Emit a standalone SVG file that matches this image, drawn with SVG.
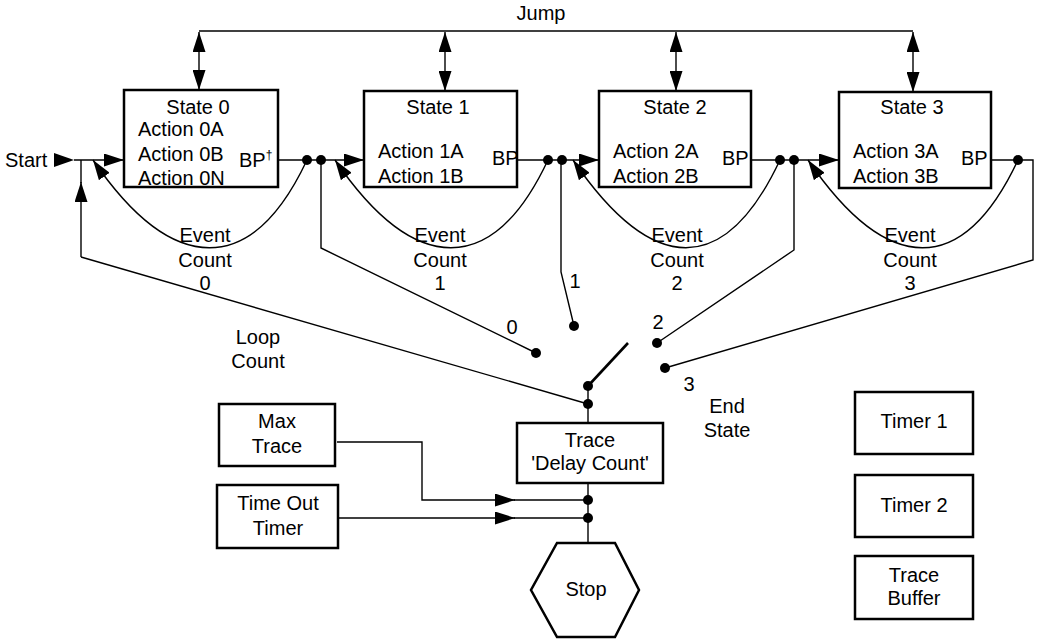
<svg xmlns="http://www.w3.org/2000/svg" width="1038" height="640" viewBox="0 0 1038 640">
<defs>
<marker id="ah" markerUnits="userSpaceOnUse" markerWidth="21" markerHeight="13" refX="20" refY="6.5" orient="auto-start-reverse" viewBox="0 0 21 13">
<path d="M0,0 L20,6.5 L0,13 z" fill="#000"/>
</marker>
</defs>
<style>
text{font-family:"Liberation Sans",Arial,sans-serif;font-size:20px;fill:#000}
.c{text-anchor:middle}
.box{fill:#fff;stroke:#000;stroke-width:2.5}
.ln{fill:none;stroke:#000;stroke-width:1.4}
.arr{fill:none;stroke:#000;stroke-width:1.4;marker-end:url(#ah)}
.dbl{fill:none;stroke:#000;stroke-width:1.4;marker-start:url(#ah);marker-end:url(#ah)}
.dot{fill:#000}
</style>
<rect width="1038" height="640" fill="#fff"/>

<g id="connectors">
<!-- Jump bus -->
<path class="ln" d="M199,31 H913"/>
<path class="dbl" d="M199,32 V90"/>
<path class="dbl" d="M445,32 V91"/>
<path class="dbl" d="M676,32 V91"/>
<path class="dbl" d="M913,32 V92"/>
<!-- Start -->
<polygon points="54,153 74,160 54,167" fill="#000"/>
<path class="arr" d="M74,160 H124"/>
<!-- loop return -->
<path class="arr" d="M81,257 V182"/>
<path class="ln" d="M81,183 V160"/>
<path class="ln" d="M81,257 L588,404"/>
<!-- state 0 out -->
<path class="ln" d="M278,160 H321"/>
<path class="arr" d="M321,160 H364"/>
<path class="arr" d="M307,160 C252,277 173,277 93,160"/>
<path class="ln" d="M321,160 V248 L536,353"/>
<!-- state 1 out -->
<path class="ln" d="M517,160 H562"/>
<path class="arr" d="M562,160 H599"/>
<path class="arr" d="M548,160 C493,277 415,277 335,160"/>
<path class="ln" d="M561,160 V272 L574,326"/>
<!-- state 2 out -->
<path class="ln" d="M751,160 H794"/>
<path class="arr" d="M794,160 H839"/>
<path class="arr" d="M780,160 C725,277 653,277 573,160"/>
<path class="ln" d="M794,160 V250 L657,343"/>
<!-- state 3 out -->
<path class="ln" d="M991,160 H1033 V260 L665,368"/>
<path class="arr" d="M1018,160 C963,277 888,277 808,160"/>
<!-- switch -->
<path class="ln" d="M588,386 L628,343" style="stroke-width:2.6"/>
<path class="ln" d="M588,386 V423"/>
<path class="ln" d="M588,483 V543"/>
<!-- Max Trace / Time Out -->
<path class="arr" d="M337,442 H422 V500 H515"/>
<path class="ln" d="M514,500 H588"/>
<path class="arr" d="M338,518 H515"/>
<path class="ln" d="M514,518 H588"/>
<!-- dots -->
<circle class="dot" cx="307" cy="160" r="5"/>
<circle class="dot" cx="321" cy="160" r="5"/>
<circle class="dot" cx="548" cy="160" r="5"/>
<circle class="dot" cx="562" cy="160" r="5"/>
<circle class="dot" cx="780" cy="160" r="5"/>
<circle class="dot" cx="794" cy="160" r="5"/>
<circle class="dot" cx="1018" cy="160" r="5"/>
<circle class="dot" cx="536" cy="353" r="5"/>
<circle class="dot" cx="574" cy="326" r="5"/>
<circle class="dot" cx="657" cy="343" r="5"/>
<circle class="dot" cx="665" cy="368" r="5"/>
<circle class="dot" cx="588" cy="386" r="5"/>
<circle class="dot" cx="588" cy="404" r="5"/>
<circle class="dot" cx="588" cy="500" r="5"/>
<circle class="dot" cx="588" cy="518" r="5"/>
<!-- labels -->
<text class="c" x="541" y="20">Jump</text>
<text x="5" y="167">Start</text>
<text class="c" x="205" y="242">Event</text>
<text class="c" x="205" y="267">Count</text>
<text class="c" x="205" y="290">0</text>
<text class="c" x="440" y="242">Event</text>
<text class="c" x="440" y="267">Count</text>
<text class="c" x="440" y="290">1</text>
<text class="c" x="677" y="242">Event</text>
<text class="c" x="677" y="267">Count</text>
<text class="c" x="677" y="290">2</text>
<text class="c" x="910" y="242">Event</text>
<text class="c" x="910" y="267">Count</text>
<text class="c" x="910" y="290">3</text>
<text class="c" x="512" y="334">0</text>
<text class="c" x="575" y="288">1</text>
<text class="c" x="658" y="329">2</text>
<text class="c" x="689" y="391">3</text>
<text class="c" x="258" y="344">Loop</text>
<text class="c" x="258" y="368">Count</text>
<text class="c" x="727" y="413">End</text>
<text class="c" x="727" y="437">State</text>
</g>

<g id="state0">
<rect class="box" x="124" y="90" width="154" height="97"/>
<text class="c" x="198" y="114">State 0</text>
<text x="138" y="136">Action 0A</text>
<text x="138" y="161">Action 0B</text>
<text x="138" y="185">Action 0N</text>
<text x="239" y="167">BP<tspan font-size="12" dy="-8">†</tspan></text>
</g>
<g id="state1">
<rect class="box" x="364" y="91" width="153" height="96"/>
<text class="c" x="438" y="114">State 1</text>
<text x="378" y="158">Action 1A</text>
<text x="378" y="183">Action 1B</text>
<text x="492" y="165">BP</text>
</g>
<g id="state2">
<rect class="box" x="599" y="91" width="152" height="96"/>
<text class="c" x="675" y="114">State 2</text>
<text x="613" y="158">Action 2A</text>
<text x="613" y="183">Action 2B</text>
<text x="722" y="165">BP</text>
</g>
<g id="state3">
<rect class="box" x="839" y="92" width="152" height="96"/>
<text class="c" x="912" y="114">State 3</text>
<text x="853" y="158">Action 3A</text>
<text x="853" y="183">Action 3B</text>
<text x="961" y="165">BP</text>
</g>
<g id="trace">
<rect class="box" x="517" y="423" width="146" height="60"/>
<text class="c" x="590" y="447">Trace</text>
<text class="c" x="590" y="470">'Delay Count'</text>
</g>
<g id="maxtrace">
<rect class="box" x="219" y="404" width="116" height="62"/>
<text class="c" x="277" y="428">Max</text>
<text class="c" x="277" y="453">Trace</text>
</g>
<g id="timeout">
<rect class="box" x="217" y="485" width="121" height="63"/>
<text class="c" x="278" y="510">Time Out</text>
<text class="c" x="278" y="535">Timer</text>
</g>
<g id="stop">
<polygon class="box" points="557,543 615,543 639,590 615,637 557,637 531,590"/>
<text class="c" x="586" y="596">Stop</text>
</g>
<g id="timer1">
<rect class="box" x="855" y="392" width="118" height="62"/>
<text class="c" x="914" y="428">Timer 1</text>
</g>
<g id="timer2">
<rect class="box" x="855" y="475" width="118" height="62"/>
<text class="c" x="914" y="512">Timer 2</text>
</g>
<g id="tracebuffer">
<rect class="box" x="855" y="556" width="118" height="63"/>
<text class="c" x="914" y="582">Trace</text>
<text class="c" x="914" y="605">Buffer</text>
</g>
</svg>
